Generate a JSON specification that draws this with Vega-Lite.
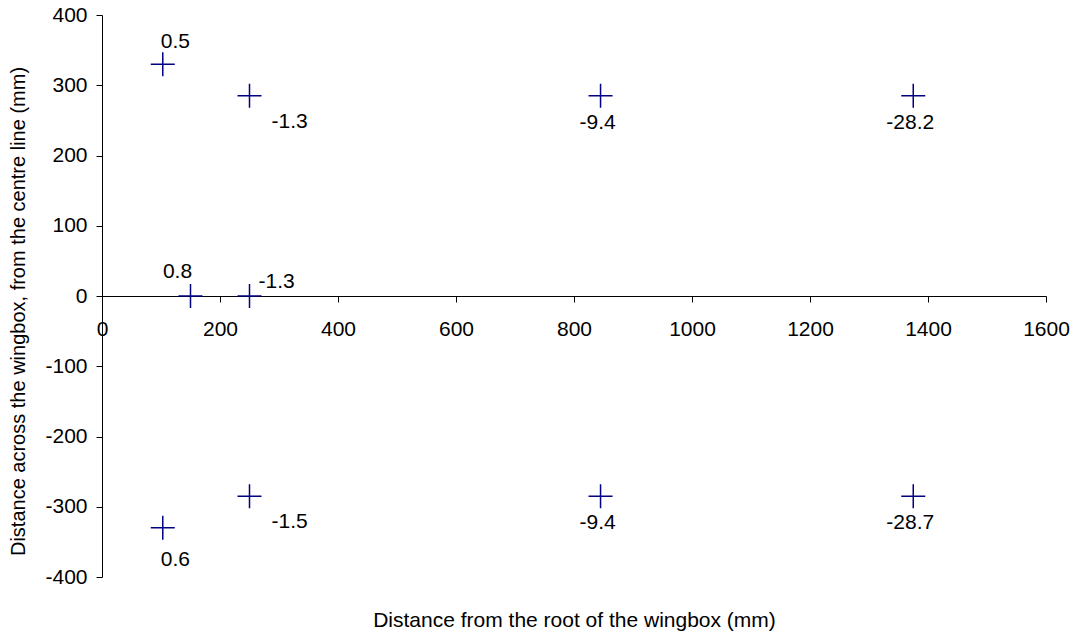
{
  "$schema": "https://vega.github.io/schema/vega-lite/v6.json",
  "autosize": "none",
  "width": 944,
  "height": 562,
  "padding": {"left": 102, "top": 15, "right": 30, "bottom": 57},
  "background": "white",
  "config": {
    "view": {"stroke": null},
    "font": "Liberation Sans",
    "axis": {"grid": false, "labelFont": "Liberation Sans", "titleFont": "Liberation Sans", "labelFontSize": 21, "titleFontSize": 21, "titleFontWeight": "normal", "labelColor": "black", "titleColor": "black", "domainColor": "black", "tickColor": "black", "tickSize": 6, "labelFlush": false, "labelOverlap": false}
  },
  "data": {
    "values": [
      {"x": 103, "y": 330, "label": "0.5"},
      {"x": 250, "y": 285, "label": "-1.3"},
      {"x": 845, "y": 285, "label": "-9.4"},
      {"x": 1375, "y": 285, "label": "-28.2"},
      {"x": 150, "y": 0, "label": "0.8"},
      {"x": 250, "y": 0, "label": "-1.3"},
      {"x": 103, "y": -330, "label": "0.6"},
      {"x": 250, "y": -285, "label": "-1.5"},
      {"x": 845, "y": -285, "label": "-9.4"},
      {"x": 1375, "y": -285, "label": "-28.7"}
    ]
  },
  "encoding": {
    "x": {"field": "x", "type": "quantitative", "scale": {"domain": [0, 1600], "nice": false, "zero": false},
      "axis": {"values": [0, 200, 400, 600, 800, 1000, 1200, 1400, 1600], "labelExpr": "'' + datum.value", "offset": -281, "labelPadding": 16, "title": "Distance from the root of the wingbox (mm)", "titleY": 324, "titleBaseline": "middle"}},
    "y": {"field": "y", "type": "quantitative", "scale": {"domain": [-400, 400], "nice": false},
      "axis": {"values": [-400, -300, -200, -100, 0, 100, 200, 300, 400], "labelExpr": "'' + datum.value", "labelPadding": 9, "title": "Distance across the wingbox, from the centre line (mm)", "titleFontSize": 20, "titleX": -84, "titleY": 296, "titleAngle": -90, "titleBaseline": "middle", "titleAlign": "center"}}
  },
  "layer": [
    {"mark": {"type": "point", "shape": "M-1,0L1,0M0,-1L0,1", "size": 576, "filled": false, "stroke": "#000080", "strokeWidth": 1.5, "opacity": 1}},
    {"transform": [{"filter": "datum.x < 120 && datum.y > 0"}],
      "mark": {"type": "text", "align": "left", "baseline": "middle", "dx": -2, "dy": -22, "fontSize": 21, "color": "black"},
      "encoding": {"text": {"field": "label"}}},
    {"transform": [{"filter": "datum.x < 120 && datum.y < 0"}],
      "mark": {"type": "text", "align": "left", "baseline": "middle", "dx": -2, "dy": 32, "fontSize": 21, "color": "black"},
      "encoding": {"text": {"field": "label"}}},
    {"transform": [{"filter": "datum.x == 250 && datum.y != 0"}],
      "mark": {"type": "text", "align": "left", "baseline": "middle", "dx": 22, "dy": 26, "fontSize": 21, "color": "black"},
      "encoding": {"text": {"field": "label"}}},
    {"transform": [{"filter": "datum.x > 500"}],
      "mark": {"type": "text", "align": "center", "baseline": "middle", "dx": -3, "dy": 27, "fontSize": 21, "color": "black"},
      "encoding": {"text": {"field": "label"}}},
    {"transform": [{"filter": "datum.x == 150"}],
      "mark": {"type": "text", "align": "center", "baseline": "middle", "dx": -13, "dy": -24, "fontSize": 21, "color": "black"},
      "encoding": {"text": {"field": "label"}}},
    {"transform": [{"filter": "datum.x == 250 && datum.y == 0"}],
      "mark": {"type": "text", "align": "left", "baseline": "middle", "dx": 9, "dy": -14, "fontSize": 21, "color": "black"},
      "encoding": {"text": {"field": "label"}}}
  ]
}
